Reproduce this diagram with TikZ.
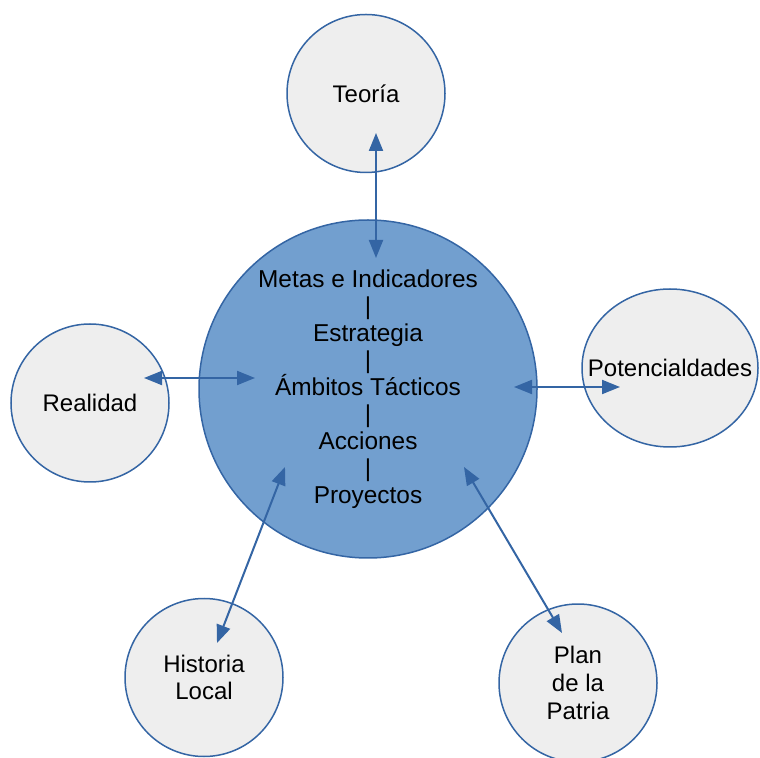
\documentclass[tikz,border=0pt]{standalone}
\usepackage{fontspec}
\setmainfont{Liberation Sans}
\usetikzlibrary{shapes.geometric,arrows.meta}
\definecolor{borde}{HTML}{3465A4}
\definecolor{centro}{HTML}{729FCF}
\definecolor{fondo}{HTML}{EEEEEE}

\begin{document}
\begin{tikzpicture}[x=0.5pt,y=-0.5pt,
  tema/.style={circle,draw=borde,fill=fondo,line width=0.75pt,minimum size=79pt,inner sep=0pt,align=center,font=\fontsize{12}{13.8}\selectfont},
  every label/.style={font=\fontsize{12}{13.8}\selectfont,inner sep=0pt},
  enlace/.style={draw=borde,line width=1pt,{Triangle[length=9pt,width=7pt]}-{Triangle[length=9pt,width=7pt]}}]
\useasboundingbox (0,0) rectangle (760,758);

\node[circle,draw=borde,fill=centro,line width=0.75pt,minimum size=169pt,inner sep=0pt,align=center,font=\fontsize{12.2}{13.5}\selectfont] (meta) at (368,389)
  {Metas e Indicadores\\|\\Estrategia\\|\\Ámbitos Tácticos\\|\\Acciones\\|\\Proyectos};

\node[tema] (teoria) at (366,93.5) {Teoría};
\node[tema] (realidad) at (90,403) {Realidad};
\node[tema,ellipse,minimum width=88pt,minimum height=79pt,label={center:Potencialdades}] (pot) at (670,368) {};
\node[tema] (historia) at (204,677.5) {Historia\\Local};
\node[tema] (plan) at (578,683) {Plan\\de la\\Patria};

\draw[enlace] ([shift={(10,39.5)}]teoria.center) -- ([shift={(8,-131)}]meta.center);
\draw[enlace] ([shift={(54,-25)}]realidad.center) -- ([shift={(-113,-11)}]meta.center);
\draw[enlace] ([shift={(146,-2)}]meta.center) -- ([shift={(-50,19)}]pot.center);
\draw[enlace] ([shift={(-83,78)}]meta.center) -- ([shift={(13,-34.5)}]historia.center);
\draw[enlace] ([shift={(96,78)}]meta.center) -- ([shift={(-16,-50)}]plan.center);
\end{tikzpicture}
\end{document}
